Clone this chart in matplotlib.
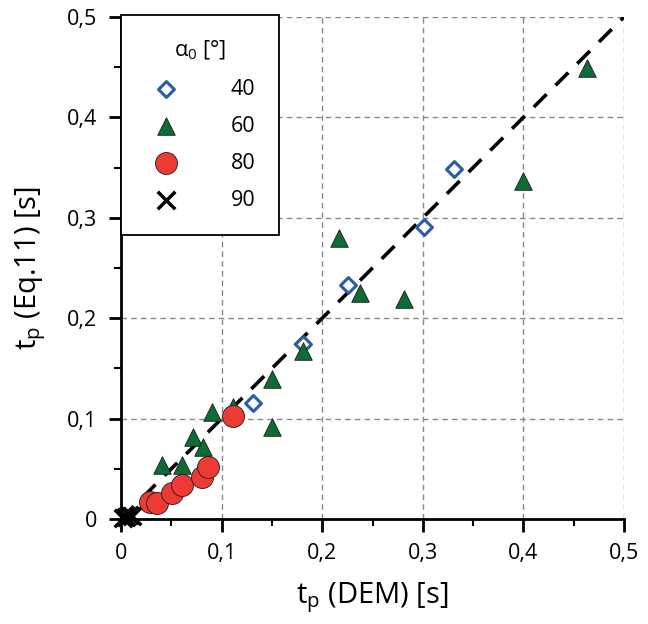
import matplotlib
matplotlib.use("Agg")
import matplotlib.pyplot as plt
from matplotlib.ticker import MultipleLocator, FuncFormatter

plt.rcParams['font.family'] = ['Open Sans', 'DejaVu Sans']

# alpha_0 = 40
x40 = [0.131, 0.181, 0.226, 0.301, 0.331]
y40 = [0.116, 0.174, 0.233, 0.291, 0.349]
# alpha_0 = 60
x60 = [0.041, 0.061, 0.072, 0.082, 0.090, 0.111, 0.150, 0.150, 0.181,
       0.217, 0.238, 0.281, 0.400, 0.463]
y60 = [0.054, 0.054, 0.082, 0.072, 0.107, 0.112, 0.139, 0.092, 0.167,
       0.280, 0.225, 0.219, 0.337, 0.449]
# alpha_0 = 80
x80 = [0.029, 0.036, 0.051, 0.061, 0.081, 0.086, 0.111]
y80 = [0.017, 0.016, 0.026, 0.034, 0.042, 0.052, 0.103]
# alpha_0 = 90
x90 = [0.002, 0.005, 0.008, 0.011]
y90 = [0.001, 0.002, 0.004, 0.003]

fig = plt.figure(figsize=(6.48, 6.24), dpi=100)
ax = fig.add_axes([121 / 648, 1 - 519 / 624, 503 / 648, 502 / 624])

ax.set_xlim(0, 0.5)
ax.set_ylim(0, 0.5)

# grid and 1:1 line
ax.grid(True, color="#888888", linestyle=(0, (4, 3)), linewidth=1.0)
ax.plot([0, 0.5], [0, 0.5], color="black", linewidth=2.6,
        linestyle=(0, (5, 3.5)), zorder=2)

ax.scatter(x40, y40, marker="D", s=65, facecolor="white", edgecolor="#2a5caa",
           linewidth=2.2, zorder=3, clip_on=False, label="40")
ax.scatter(x60, y60, marker="^", s=160, facecolor="#0f6b35", edgecolor="#1a1a1a",
           linewidth=0.6, zorder=3, clip_on=False, label="60")
ax.scatter(x80, y80, marker="o", s=250, facecolor="#ee3a34", edgecolor="#1a1a1a",
           linewidth=0.6, zorder=3, clip_on=False, label="80")
ax.scatter(x90, y90, marker="x", s=160, color="black", linewidth=2.5,
           zorder=4, clip_on=False, label="90")

for side in ["top", "right"]:
    ax.spines[side].set_visible(False)
for side in ["left", "bottom"]:
    ax.spines[side].set_linewidth(2)
    ax.spines[side].set_zorder(5)

ax.xaxis.set_major_locator(MultipleLocator(0.1))
ax.yaxis.set_major_locator(MultipleLocator(0.1))
ax.xaxis.set_minor_locator(MultipleLocator(0.05))
ax.yaxis.set_minor_locator(MultipleLocator(0.05))
fmt = FuncFormatter(lambda v, p: "0" if abs(v) < 1e-9 else f"{v:.1f}".replace(".", ","))
ax.xaxis.set_major_formatter(fmt)
ax.yaxis.set_major_formatter(fmt)
ax.tick_params(which="major", direction="out", length=9, width=2,
               labelsize=15.5, pad=8)
ax.tick_params(which="minor", direction="out", length=5, width=1.5)

ax.set_xlabel(r"t$_\mathregular{p}$ (DEM) [s]", fontsize=21, labelpad=12)
ax.set_ylabel(r"t$_\mathregular{p}$ (Eq.11) [s]", fontsize=21, labelpad=14)

leg = ax.legend(title=r"α$_\mathregular{0}$ [°]", loc="upper left",
                bbox_to_anchor=(0.0, 1.003), fontsize=15.5, title_fontsize=15.5,
                frameon=True, fancybox=False, edgecolor="black",
                framealpha=1, handletextpad=2.0, labelspacing=0.75,
                borderpad=1.1, borderaxespad=0, handlelength=2.0,
                scatterpoints=1)
leg.get_frame().set_linewidth(1.3)
leg.set_zorder(6)

fig.savefig("out.png", dpi=100)
